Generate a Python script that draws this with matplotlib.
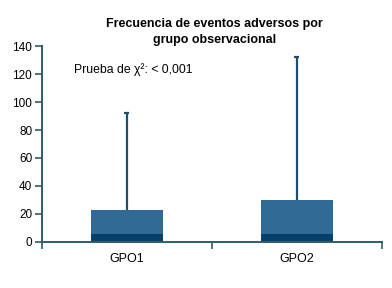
import matplotlib
matplotlib.use('Agg')
import matplotlib.pyplot as plt

# datos
grupos = ['GPO1', 'GPO2']
mediana = [6, 6]
p75 = [23, 30]
maximo = [92, 132]

plt.rcParams['font.family'] = ['Liberation Sans', 'DejaVu Sans']

c_axis = '#2f5d66'
c_light = '#2f6b95'
c_dark = '#04406a'
c_whisk = '#1e4e6c'

fig = plt.figure(figsize=(3.92, 2.88), dpi=100)
ax = fig.add_axes([0.107, 0.160, 0.867, 0.680])

pos = [0.5, 1.5]
w = 0.42
top_part = [b - a for a, b in zip(mediana, p75)]
ax.bar(pos, mediana, width=w, color=c_dark, zorder=2)
ax.bar(pos, top_part, bottom=mediana, width=w, color=c_light, zorder=2)
ax.vlines(pos, p75, maximo, color=c_whisk, lw=1.6, zorder=1)
ax.hlines(maximo, [p - 0.015 for p in pos], [p + 0.015 for p in pos], color=c_whisk, lw=1.6)

ax.set_xlim(0, 2)
ax.set_ylim(0, 140)
ax.set_yticks(range(0, 141, 20))
ax.set_xticks([0, 1, 2])
ax.set_xticklabels([])
ax.set_xticks(pos, minor=True)
ax.set_xticklabels(grupos, minor=True)
ax.tick_params(axis='x', which='minor', length=0, pad=8, labelsize=9)
ax.tick_params(axis='x', which='major', length=5, width=1.2, color=c_axis)
ax.tick_params(axis='y', length=5, width=1.2, color=c_axis, labelsize=8.5, pad=2)

for s in ['top', 'right']:
    ax.spines[s].set_visible(False)
for s in ['left', 'bottom']:
    ax.spines[s].set_color(c_axis)
    ax.spines[s].set_linewidth(1.4)

fig.text(0.548, 0.888, 'Frecuencia de eventos adversos por\ngrupo observacional',
         ha='center', va='center', fontsize=9, fontweight='bold', linespacing=1.45)
ax.text(0.19, 123, 'Prueba de χ²: < 0,001', fontsize=8.8, va='center')

fig.savefig('out.png', dpi=100)
